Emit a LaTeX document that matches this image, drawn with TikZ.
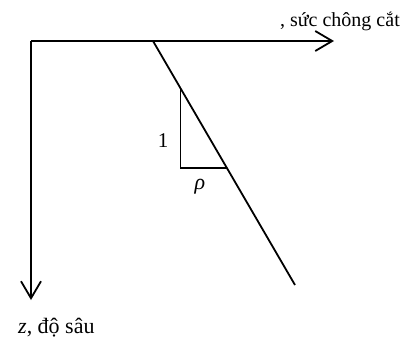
\documentclass[tikz,border=0pt]{standalone}
\usepackage{fontspec}
\setmainfont{Liberation Serif}
\usetikzlibrary{arrows.meta}
\begin{document}
\begin{tikzpicture}[x=1pt,y=-1pt,
  axis/.style={line width=1.8pt,-{Straight Barb[length=17pt,width=20pt,line width=1.8pt]}},
  ln/.style={line width=1.8pt},
  lbl/.style={font=\fontsize{20}{24}\selectfont,inner sep=0pt}]
\useasboundingbox (0,0) rectangle (402,338);
\coordinate (o) at (31,41);
\coordinate (xe) at (334,41);
\coordinate (ze) at (31,300);
\coordinate (a) at (153,41);
\coordinate (b) at (295,285);
\coordinate (t1) at (180.4,88);
\coordinate (t2) at (180.4,168);
\coordinate (t3) at (226.9,168);
\draw[ln] (o) -- (a);
\draw[axis] (a) -- (xe);
\draw[axis] (o) -- (ze);
\draw[ln] (a) -- (b);
\draw[ln] (t1) -- (t2) -- (t3);
\node[lbl,anchor=base east] (xl) at (400,26) {, sức chông cắt};
\node[lbl,font=\fontsize{22}{26}\selectfont,anchor=base west] (zl) at (18,333) {\textit{z}, độ sâu};
\node[lbl,font=\fontsize{21}{25}\selectfont] (one) at (163,141) {1};
\node[lbl,font=\fontsize{22}{26}\selectfont] (rho) at (200,187) {\textit{ρ}};
\end{tikzpicture}
\end{document}
